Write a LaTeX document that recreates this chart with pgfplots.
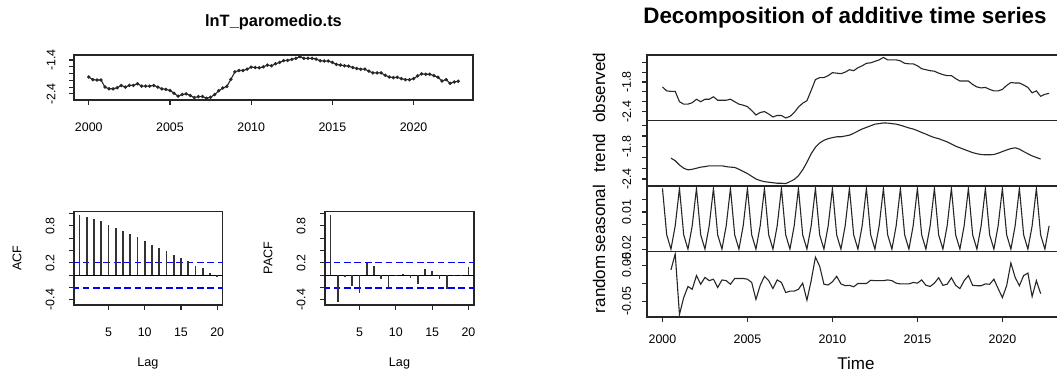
\documentclass[border=0pt]{standalone}
\usepackage{fontspec}
\setmainfont{Liberation Sans}
\usepackage{pgfplots}
\usepackage{pgfplotstable}
\pgfplotsset{compat=1.18}
\definecolor{rblue}{RGB}{0,0,255}

\pgfplotstableread{
x y
2000.00 -1.90
2000.25 -1.98
2000.50 -1.99
2000.75 -1.99
2001.00 -2.20
2001.25 -2.25
2001.50 -2.25
2001.75 -2.22
2002.00 -2.15
2002.25 -2.20
2002.50 -2.15
2002.75 -2.15
2003.00 -2.10
2003.25 -2.17
2003.50 -2.17
2003.75 -2.17
2004.00 -2.15
2004.25 -2.20
2004.50 -2.25
2004.75 -2.27
2005.00 -2.30
2005.25 -2.38
2005.50 -2.47
2005.75 -2.42
2006.00 -2.40
2006.25 -2.45
2006.50 -2.51
2006.75 -2.48
2007.00 -2.48
2007.25 -2.53
2007.50 -2.50
2007.75 -2.42
2008.00 -2.31
2008.25 -2.23
2008.50 -2.18
2008.75 -1.97
2009.00 -1.75
2009.25 -1.71
2009.50 -1.71
2009.75 -1.67
2010.00 -1.61
2010.25 -1.62
2010.50 -1.63
2010.75 -1.60
2011.00 -1.55
2011.25 -1.57
2011.50 -1.51
2011.75 -1.47
2012.00 -1.42
2012.25 -1.41
2012.50 -1.38
2012.75 -1.35
2013.00 -1.30
2013.25 -1.35
2013.50 -1.35
2013.75 -1.35
2014.00 -1.37
2014.25 -1.42
2014.50 -1.43
2014.75 -1.43
2015.00 -1.47
2015.25 -1.53
2015.50 -1.55
2015.75 -1.57
2016.00 -1.58
2016.25 -1.62
2016.50 -1.65
2016.75 -1.67
2017.00 -1.67
2017.25 -1.73
2017.50 -1.78
2017.75 -1.78
2018.00 -1.78
2018.25 -1.85
2018.50 -1.90
2018.75 -1.92
2019.00 -1.91
2019.25 -1.95
2019.50 -1.98
2019.75 -1.98
2020.00 -1.95
2020.25 -1.87
2020.50 -1.81
2020.75 -1.82
2021.00 -1.82
2021.25 -1.86
2021.50 -1.91
2021.75 -2.02
2022.00 -1.98
2022.25 -2.09
2022.50 -2.05
2022.75 -2.03
}\obs

\pgfplotstableread{
x y
2000.50 -2.013
2000.75 -2.06
2001.00 -2.14
2001.25 -2.20
2001.50 -2.23
2001.75 -2.22
2002.00 -2.20
2002.25 -2.18
2002.50 -2.17
2002.75 -2.155
2003.00 -2.155
2003.25 -2.155
2003.50 -2.155
2003.75 -2.17
2004.00 -2.18
2004.25 -2.185
2004.50 -2.22
2004.75 -2.26
2005.00 -2.30
2005.25 -2.35
2005.50 -2.40
2005.75 -2.43
2006.00 -2.45
2006.25 -2.46
2006.50 -2.47
2006.75 -2.48
2007.00 -2.48
2007.25 -2.486
2007.50 -2.45
2007.75 -2.41
2008.00 -2.34
2008.25 -2.23
2008.50 -2.09
2008.75 -1.93
2009.00 -1.81
2009.25 -1.73
2009.50 -1.68
2009.75 -1.65
2010.00 -1.63
2010.25 -1.615
2010.50 -1.615
2010.75 -1.60
2011.00 -1.585
2011.25 -1.55
2011.50 -1.51
2011.75 -1.47
2012.00 -1.44
2012.25 -1.41
2012.50 -1.38
2012.75 -1.37
2013.00 -1.357
2013.25 -1.36
2013.50 -1.37
2013.75 -1.38
2014.00 -1.40
2014.25 -1.425
2014.50 -1.45
2014.75 -1.47
2015.00 -1.50
2015.25 -1.535
2015.50 -1.565
2015.75 -1.60
2016.00 -1.63
2016.25 -1.65
2016.50 -1.68
2016.75 -1.71
2017.00 -1.75
2017.25 -1.79
2017.50 -1.82
2017.75 -1.85
2018.00 -1.88
2018.25 -1.91
2018.50 -1.93
2018.75 -1.945
2019.00 -1.95
2019.25 -1.95
2019.50 -1.945
2019.75 -1.92
2020.00 -1.89
2020.25 -1.86
2020.50 -1.835
2020.75 -1.82
2021.00 -1.845
2021.25 -1.89
2021.50 -1.93
2021.75 -1.97
2022.00 -2.00
2022.25 -2.03
}\trend

\pgfplotstableread{
x y
2000.00 0.0287
2000.25 -0.0082
2000.50 -0.0195
2000.75 -0.0010
2001.00 0.0287
2001.25 -0.0082
2001.50 -0.0195
2001.75 -0.0010
2002.00 0.0287
2002.25 -0.0082
2002.50 -0.0195
2002.75 -0.0010
2003.00 0.0287
2003.25 -0.0082
2003.50 -0.0195
2003.75 -0.0010
2004.00 0.0287
2004.25 -0.0082
2004.50 -0.0195
2004.75 -0.0010
2005.00 0.0287
2005.25 -0.0082
2005.50 -0.0195
2005.75 -0.0010
2006.00 0.0287
2006.25 -0.0082
2006.50 -0.0195
2006.75 -0.0010
2007.00 0.0287
2007.25 -0.0082
2007.50 -0.0195
2007.75 -0.0010
2008.00 0.0287
2008.25 -0.0082
2008.50 -0.0195
2008.75 -0.0010
2009.00 0.0287
2009.25 -0.0082
2009.50 -0.0195
2009.75 -0.0010
2010.00 0.0287
2010.25 -0.0082
2010.50 -0.0195
2010.75 -0.0010
2011.00 0.0287
2011.25 -0.0082
2011.50 -0.0195
2011.75 -0.0010
2012.00 0.0287
2012.25 -0.0082
2012.50 -0.0195
2012.75 -0.0010
2013.00 0.0287
2013.25 -0.0082
2013.50 -0.0195
2013.75 -0.0010
2014.00 0.0287
2014.25 -0.0082
2014.50 -0.0195
2014.75 -0.0010
2015.00 0.0287
2015.25 -0.0082
2015.50 -0.0195
2015.75 -0.0010
2016.00 0.0287
2016.25 -0.0082
2016.50 -0.0195
2016.75 -0.0010
2017.00 0.0287
2017.25 -0.0082
2017.50 -0.0195
2017.75 -0.0010
2018.00 0.0287
2018.25 -0.0082
2018.50 -0.0195
2018.75 -0.0010
2019.00 0.0287
2019.25 -0.0082
2019.50 -0.0195
2019.75 -0.0010
2020.00 0.0287
2020.25 -0.0082
2020.50 -0.0195
2020.75 -0.0010
2021.00 0.0287
2021.25 -0.0082
2021.50 -0.0195
2021.75 -0.0010
2022.00 0.0287
2022.25 -0.0082
2022.50 -0.0195
2022.75 -0.0010
}\seas

\pgfplotstableread{
x y
2000.50 0.037
2000.75 0.081
2001.00 -0.087
2001.25 -0.040
2001.50 -0.009
2001.75 -0.017
2002.00 0.021
2002.25 -0.003
2002.50 0.016
2002.75 0.007
2003.00 0.011
2003.25 -0.012
2003.50 0.009
2003.75 0.007
2004.00 -0.003
2004.25 0.013
2004.50 0.013
2004.75 0.013
2005.00 0.011
2005.25 0.002
2005.50 -0.045
2005.75 -0.006
2006.00 0.019
2006.25 0.007
2006.50 -0.015
2006.75 0.009
2007.00 0.002
2007.25 -0.026
2007.50 -0.022
2007.75 -0.022
2008.00 -0.017
2008.25 0.000
2008.50 -0.047
2008.75 0.007
2009.00 0.072
2009.25 0.047
2009.50 -0.003
2009.75 -0.005
2010.00 0.004
2010.25 0.019
2010.50 -0.002
2010.75 -0.007
2011.00 -0.006
2011.25 -0.010
2011.50 -0.001
2011.75 -0.001
2012.00 -0.001
2012.25 0.008
2012.50 0.007
2012.75 0.007
2013.00 0.007
2013.25 0.009
2013.50 0.007
2013.75 0.000
2014.00 -0.002
2014.25 -0.002
2014.50 -0.002
2014.75 0.002
2015.00 0.000
2015.25 0.009
2015.50 -0.006
2015.75 -0.009
2016.00 0.000
2016.25 0.015
2016.50 -0.006
2016.75 -0.003
2017.00 0.015
2017.25 -0.006
2017.50 -0.015
2017.75 0.007
2018.00 0.021
2018.25 -0.006
2018.50 -0.007
2018.75 -0.007
2019.00 -0.002
2019.25 -0.003
2019.50 0.011
2019.75 -0.015
2020.00 -0.040
2020.25 -0.007
2020.50 0.056
2020.75 0.016
2021.00 -0.007
2021.25 0.021
2021.50 0.028
2021.75 -0.037
2022.00 0.007
2022.25 -0.029
}\rand

\pgfplotstableread{
lag acf pacf
1 0.970 0.970
2 0.948 -0.430
3 0.916 -0.027
4 0.873 -0.184
5 0.818 -0.290
6 0.770 0.195
7 0.721 0.152
8 0.667 -0.060
9 0.618 -0.215
10 0.547 -0.016
11 0.493 0.020
12 0.444 -0.050
13 0.396 -0.146
14 0.325 0.103
15 0.276 0.070
16 0.222 -0.060
17 0.152 -0.228
18 0.108 -0.020
19 0.033 0.005
20 -0.027 0.125
}\acf

% confidence limits +-1.96/sqrt(92)
\pgfplotstableread{
x y
0 0.2043
21 0.2043
}\climup
\pgfplotstableread{
x y
0 -0.2043
21 -0.2043
}\climdn
\pgfplotstableread{
x y
0 0
21 0
}\zeroline

\pgfplotsset{
  rbase/.style={
    scale only axis, anchor=north west, clip=true,
    scaled ticks=false,
    axis line style={black!85, line width=0.55pt},
    tick style={black!85, line width=0.55pt},
    tick align=outside, major tick length=2.5pt, tick pos=left,
    ticklabel style={font=\fontsize{6.2}{7}\selectfont, inner sep=2pt},
    xticklabel style={anchor=north},
    yticklabel style={rotate=90, anchor=south},
  },
  rline/.style={black!85, line width=0.55pt, no markers},
  cline/.style={draw=rblue, line width=0.8pt, no markers,
    dash pattern=on 3.4pt off 1.8pt},
  decomp/.style={rbase, width=208.8pt, height=32.75pt, xmin=1999.09, xmax=2023.66,
    xtick=\empty, yticklabel shift=3.3pt},
  corr/.style={rbase, height=46.65pt,
    xmin=0.24, xmax=20.76, ymin=-0.485, ymax=1.03,
    xtick={5,10,15,20}, xticklabels={5,10,15,20},
    ytick={-0.4,-0.2,0,0.2,0.4,0.6,0.8,1.0}, yticklabels={-0.4,,,0.2,,,0.8,},
    xticklabel shift=6.85pt, yticklabel shift=5.0pt},
}

\begin{document}
\begin{tikzpicture}
\path[use as bounding box] (0pt,0pt) rectangle (528.5pt,-185.5pt);

% ---------- left top: series ----------
\begin{axis}[rbase, at={(37pt,-27.5pt)}, width=199.5pt, height=22.5pt,
  xmin=1999.09, xmax=2023.66, ymin=-2.582, ymax=-1.251,
  xtick={2000,2005,2010,2015,2020}, xticklabels={2000,2005,2010,2015,2020},
  ytick={-2.4,-2.2,-2.0,-1.8,-1.6,-1.4}, yticklabels={-2.4,,,,,-1.4},
  xticklabel shift=6.85pt, yticklabel shift=4.6pt]
\addplot[black!85, line width=0.55pt, mark=*, mark size=0.55pt] table[x=x,y=y]{\obs};
\end{axis}

% ---------- ACF ----------
\begin{axis}[corr, at={(37pt,-105.85pt)}, width=74.35pt]
\addplot[cline] table[x=x,y=y]{\climup};
\addplot[cline, line width=0.95pt] table[x=x,y=y]{\climdn};
\addplot[black, line width=0.5pt, no markers] table[x=x,y=y]{\zeroline};
\addplot[ycomb, black!80, line width=0.85pt, no markers] table[x=lag,y=acf]{\acf};
\end{axis}

% ---------- PACF ----------
\begin{axis}[corr, at={(162.5pt,-105.85pt)}, width=74.5pt]
\addplot[cline] table[x=x,y=y]{\climup};
\addplot[cline, line width=0.95pt] table[x=x,y=y]{\climdn};
\addplot[black, line width=0.5pt, no markers] table[x=x,y=y]{\zeroline};
\addplot[ycomb, black!80, line width=0.85pt, no markers] table[x=lag,y=pacf]{\acf};
\end{axis}

% ---------- decomposition ----------
\begin{axis}[decomp, at={(323.5pt,-27.5pt)}, ymin=-2.582, ymax=-1.251,
  ytick={-2.4,-2.2,-2.0,-1.8,-1.6,-1.4}, yticklabels={-2.4,,,-1.8,,}]
\addplot[rline] table[x=x,y=y]{\obs};
\end{axis}
\begin{axis}[decomp, at={(323.5pt,-60.25pt)}, ymin=-2.531, ymax=-1.312,
  ytick={-2.4,-2.2,-2.0,-1.8,-1.6,-1.4}, yticklabels={-2.4,,,-1.8,,}]
\addplot[rline] table[x=x,y=y]{\trend};
\end{axis}
\begin{axis}[decomp, at={(323.5pt,-93pt)}, ymin=-0.0214, ymax=0.0306,
  ytick={-0.02,-0.01,0,0.01,0.02}, yticklabels={-0.02,,,0.01,}]
\addplot[rline] table[x=x,y=y]{\seas};
\end{axis}
\begin{axis}[decomp, at={(323.5pt,-125.75pt)}, ymin=-0.0937, ymax=0.0877,
  xtick={2000,2005,2010,2015,2020}, xticklabels={2000,2005,2010,2015,2020},
  xticklabel shift=4.35pt,
  ytick={-0.05,0,0.05}, yticklabels={-0.05,,0.05}]
\addplot[rline] table[x=x,y=y]{\rand};
\end{axis}

% ---------- titles and labels ----------
\node[font=\fontsize{8.2}{9}\selectfont\bfseries] at (136.75pt,-11pt) {lnT\_paromedio.ts};
\node[font=\fontsize{6.3}{7}\selectfont, rotate=90] at (8.5pt,-129pt) {ACF};
\node[font=\fontsize{6.3}{7}\selectfont, rotate=90] at (134pt,-129pt) {PACF};
\node[font=\fontsize{6.3}{7}\selectfont] at (74pt,-181.5pt) {Lag};
\node[font=\fontsize{6.3}{7}\selectfont] at (199.75pt,-181.5pt) {Lag};

\node[font=\fontsize{11.2}{13}\selectfont\bfseries] at (422.5pt,-9pt) {Decomposition of additive time series};
\node[font=\fontsize{8.5}{10}\selectfont, rotate=90] at (299.5pt,-43.9pt) {observed};
\node[font=\fontsize{8.5}{10}\selectfont, rotate=90] at (299.5pt,-76.6pt) {trend};
\node[font=\fontsize{8.5}{10}\selectfont, rotate=90] at (299.5pt,-109.4pt) {seasonal};
\node[font=\fontsize{8.5}{10}\selectfont, rotate=90] at (299.5pt,-142.1pt) {random};
\node[font=\fontsize{8.5}{10}\selectfont] at (428pt,-181.5pt) {Time};
\end{tikzpicture}
\end{document}
